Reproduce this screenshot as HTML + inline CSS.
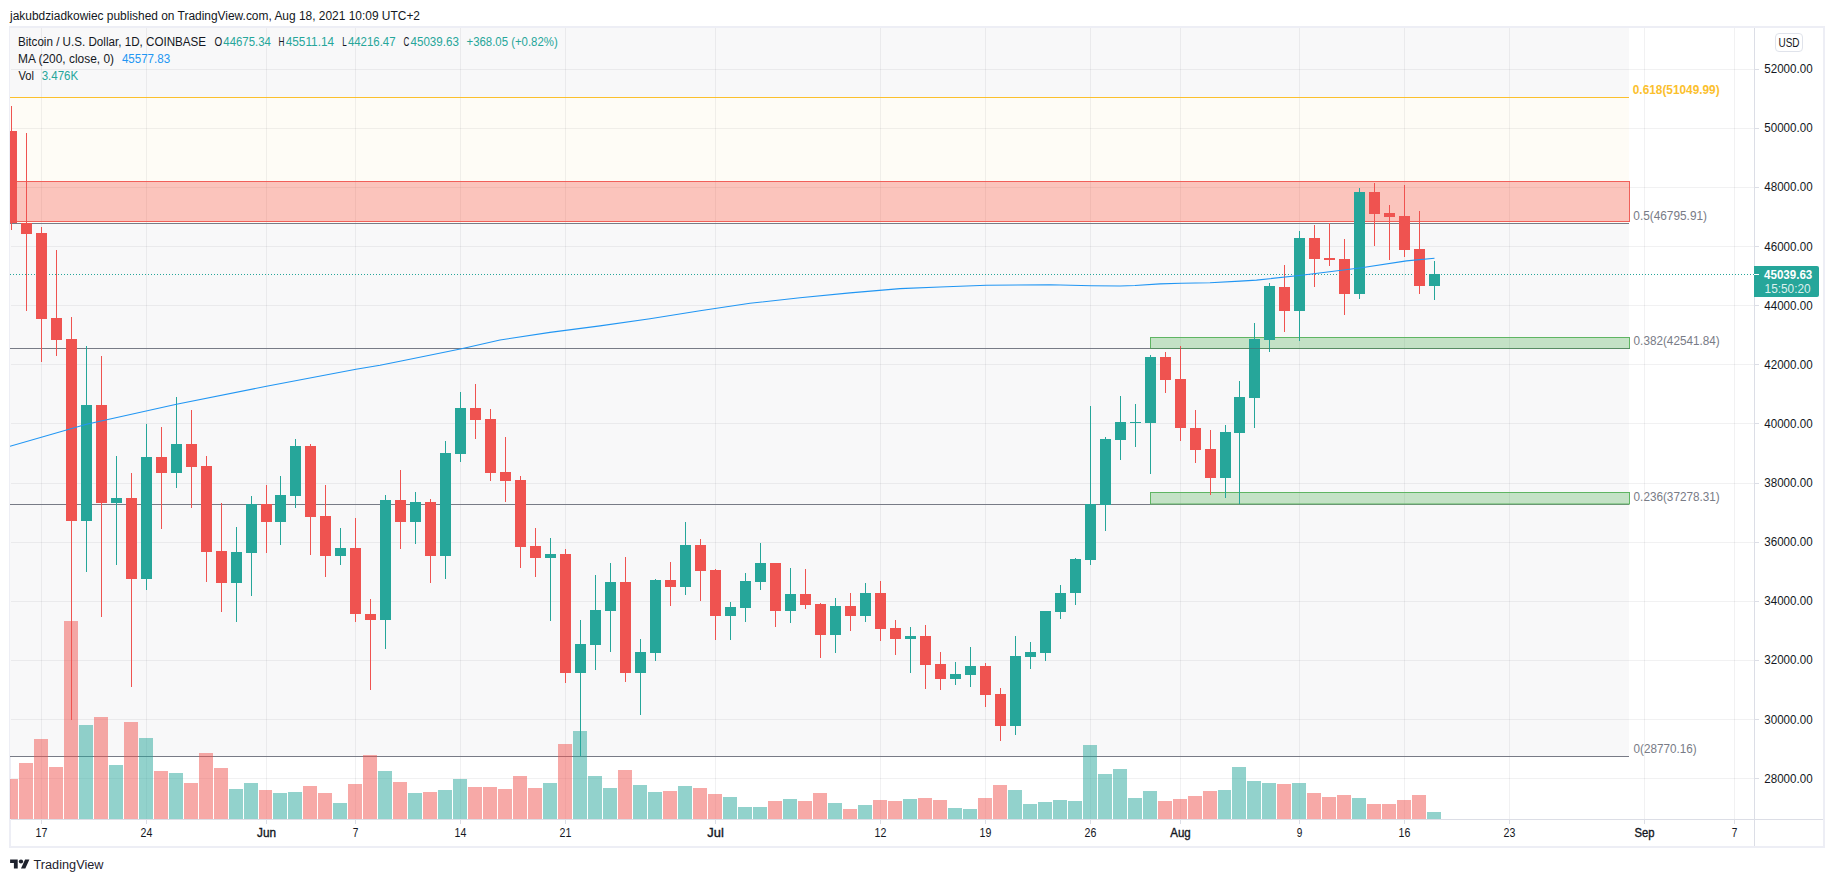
<!DOCTYPE html>
<html lang="en"><head><meta charset="utf-8"><title>BTCUSD chart</title>
<style>html,body{margin:0;padding:0;background:#fff}body{width:1834px;height:882px;overflow:hidden}svg{display:block}text{font-family:"Liberation Sans",sans-serif;font-size:12px}</style></head><body>
<svg width="1834" height="882" viewBox="0 0 1834 882">
<rect width="1834" height="882" fill="#fff"/>
<rect x="10" y="27" width="1814" height="820" fill="#fff" stroke="#edeef5" stroke-width="2"/>
<defs><clipPath id="pane"><rect x="10" y="28" width="1744" height="791"/></clipPath></defs>
<g clip-path="url(#pane)">
<rect x="10" y="28" width="1619" height="69.5" fill="#f8f8f9"/>
<rect x="10" y="97.5" width="1619" height="125.5" fill="#fefcf6"/>
<rect x="10" y="223" width="1619" height="533" fill="#f8f8f9"/>
</g>
<line x1="11" x2="1754" y1="69.5" y2="69.5" stroke="rgba(42,46,57,0.065)"/>
<line x1="11" x2="1754" y1="128.5" y2="128.5" stroke="rgba(42,46,57,0.065)"/>
<line x1="11" x2="1754" y1="187.5" y2="187.5" stroke="rgba(42,46,57,0.065)"/>
<line x1="11" x2="1754" y1="246.5" y2="246.5" stroke="rgba(42,46,57,0.065)"/>
<line x1="11" x2="1754" y1="305.5" y2="305.5" stroke="rgba(42,46,57,0.065)"/>
<line x1="11" x2="1754" y1="364.5" y2="364.5" stroke="rgba(42,46,57,0.065)"/>
<line x1="11" x2="1754" y1="423.5" y2="423.5" stroke="rgba(42,46,57,0.065)"/>
<line x1="11" x2="1754" y1="483.5" y2="483.5" stroke="rgba(42,46,57,0.065)"/>
<line x1="11" x2="1754" y1="542.5" y2="542.5" stroke="rgba(42,46,57,0.065)"/>
<line x1="11" x2="1754" y1="601.5" y2="601.5" stroke="rgba(42,46,57,0.065)"/>
<line x1="11" x2="1754" y1="660.5" y2="660.5" stroke="rgba(42,46,57,0.065)"/>
<line x1="11" x2="1754" y1="719.5" y2="719.5" stroke="rgba(42,46,57,0.065)"/>
<line x1="11" x2="1754" y1="778.5" y2="778.5" stroke="rgba(42,46,57,0.065)"/>
<line x1="41.5" x2="41.5" y1="28" y2="819" stroke="rgba(42,46,57,0.065)"/>
<line x1="146.5" x2="146.5" y1="28" y2="819" stroke="rgba(42,46,57,0.065)"/>
<line x1="266.5" x2="266.5" y1="28" y2="819" stroke="rgba(42,46,57,0.065)"/>
<line x1="355.5" x2="355.5" y1="28" y2="819" stroke="rgba(42,46,57,0.065)"/>
<line x1="460.5" x2="460.5" y1="28" y2="819" stroke="rgba(42,46,57,0.065)"/>
<line x1="565.5" x2="565.5" y1="28" y2="819" stroke="rgba(42,46,57,0.065)"/>
<line x1="715.5" x2="715.5" y1="28" y2="819" stroke="rgba(42,46,57,0.065)"/>
<line x1="880.5" x2="880.5" y1="28" y2="819" stroke="rgba(42,46,57,0.065)"/>
<line x1="985.5" x2="985.5" y1="28" y2="819" stroke="rgba(42,46,57,0.065)"/>
<line x1="1090.5" x2="1090.5" y1="28" y2="819" stroke="rgba(42,46,57,0.065)"/>
<line x1="1180.5" x2="1180.5" y1="28" y2="819" stroke="rgba(42,46,57,0.065)"/>
<line x1="1299.5" x2="1299.5" y1="28" y2="819" stroke="rgba(42,46,57,0.065)"/>
<line x1="1404.5" x2="1404.5" y1="28" y2="819" stroke="rgba(42,46,57,0.065)"/>
<line x1="1509.5" x2="1509.5" y1="28" y2="819" stroke="rgba(42,46,57,0.065)"/>
<line x1="1644.5" x2="1644.5" y1="28" y2="819" stroke="rgba(42,46,57,0.065)"/>
<line x1="1734.5" x2="1734.5" y1="28" y2="819" stroke="rgba(42,46,57,0.065)"/>
<g clip-path="url(#pane)">
<line x1="10" x2="1629" y1="97.5" y2="97.5" stroke="#fbc02d" stroke-width="1"/>
<line x1="10" x2="1629" y1="223.5" y2="223.5" stroke="#787b86" stroke-width="1"/>
<line x1="10" x2="1629" y1="348.5" y2="348.5" stroke="#787b86" stroke-width="1"/>
<line x1="10" x2="1629" y1="504.5" y2="504.5" stroke="#787b86" stroke-width="1"/>
<line x1="10" x2="1629" y1="756.5" y2="756.5" stroke="#787b86" stroke-width="1"/>
<rect x="4" y="779" width="14" height="40" fill="rgba(239,83,80,0.5)"/>
<rect x="19" y="763" width="14" height="56" fill="rgba(239,83,80,0.5)"/>
<rect x="34" y="739" width="14" height="80" fill="rgba(239,83,80,0.5)"/>
<rect x="49" y="767" width="14" height="52" fill="rgba(239,83,80,0.5)"/>
<rect x="64" y="621" width="14" height="198" fill="rgba(239,83,80,0.5)"/>
<rect x="79" y="725" width="14" height="94" fill="rgba(38,166,154,0.5)"/>
<rect x="94" y="717" width="14" height="102" fill="rgba(239,83,80,0.5)"/>
<rect x="109" y="765" width="14" height="54" fill="rgba(38,166,154,0.5)"/>
<rect x="124" y="722" width="14" height="97" fill="rgba(239,83,80,0.5)"/>
<rect x="139" y="738" width="14" height="81" fill="rgba(38,166,154,0.5)"/>
<rect x="154" y="771" width="14" height="48" fill="rgba(239,83,80,0.5)"/>
<rect x="169" y="773" width="14" height="46" fill="rgba(38,166,154,0.5)"/>
<rect x="184" y="783" width="14" height="36" fill="rgba(239,83,80,0.5)"/>
<rect x="199" y="753" width="14" height="66" fill="rgba(239,83,80,0.5)"/>
<rect x="214" y="768" width="14" height="51" fill="rgba(239,83,80,0.5)"/>
<rect x="229" y="789" width="14" height="30" fill="rgba(38,166,154,0.5)"/>
<rect x="244" y="783" width="14" height="36" fill="rgba(38,166,154,0.5)"/>
<rect x="259" y="790" width="13" height="29" fill="rgba(239,83,80,0.5)"/>
<rect x="273" y="793" width="14" height="26" fill="rgba(38,166,154,0.5)"/>
<rect x="288" y="792" width="14" height="27" fill="rgba(38,166,154,0.5)"/>
<rect x="303" y="786" width="14" height="33" fill="rgba(239,83,80,0.5)"/>
<rect x="318" y="793" width="14" height="26" fill="rgba(239,83,80,0.5)"/>
<rect x="333" y="803" width="14" height="16" fill="rgba(38,166,154,0.5)"/>
<rect x="348" y="784" width="14" height="35" fill="rgba(239,83,80,0.5)"/>
<rect x="363" y="755" width="14" height="64" fill="rgba(239,83,80,0.5)"/>
<rect x="378" y="771" width="14" height="48" fill="rgba(38,166,154,0.5)"/>
<rect x="393" y="782" width="14" height="37" fill="rgba(239,83,80,0.5)"/>
<rect x="408" y="793" width="14" height="26" fill="rgba(38,166,154,0.5)"/>
<rect x="423" y="792" width="14" height="27" fill="rgba(239,83,80,0.5)"/>
<rect x="438" y="790" width="14" height="29" fill="rgba(38,166,154,0.5)"/>
<rect x="453" y="779" width="14" height="40" fill="rgba(38,166,154,0.5)"/>
<rect x="468" y="787" width="14" height="32" fill="rgba(239,83,80,0.5)"/>
<rect x="483" y="787" width="14" height="32" fill="rgba(239,83,80,0.5)"/>
<rect x="498" y="789" width="14" height="30" fill="rgba(239,83,80,0.5)"/>
<rect x="513" y="776" width="14" height="43" fill="rgba(239,83,80,0.5)"/>
<rect x="528" y="788" width="14" height="31" fill="rgba(239,83,80,0.5)"/>
<rect x="543" y="783" width="14" height="36" fill="rgba(38,166,154,0.5)"/>
<rect x="558" y="744" width="14" height="75" fill="rgba(239,83,80,0.5)"/>
<rect x="573" y="731" width="14" height="88" fill="rgba(38,166,154,0.5)"/>
<rect x="588" y="776" width="14" height="43" fill="rgba(38,166,154,0.5)"/>
<rect x="603" y="788" width="14" height="31" fill="rgba(38,166,154,0.5)"/>
<rect x="618" y="770" width="14" height="49" fill="rgba(239,83,80,0.5)"/>
<rect x="633" y="785" width="14" height="34" fill="rgba(38,166,154,0.5)"/>
<rect x="648" y="792" width="14" height="27" fill="rgba(38,166,154,0.5)"/>
<rect x="663" y="791" width="14" height="28" fill="rgba(239,83,80,0.5)"/>
<rect x="678" y="786" width="14" height="33" fill="rgba(38,166,154,0.5)"/>
<rect x="693" y="788" width="14" height="31" fill="rgba(239,83,80,0.5)"/>
<rect x="708" y="794" width="14" height="25" fill="rgba(239,83,80,0.5)"/>
<rect x="723" y="797" width="14" height="22" fill="rgba(38,166,154,0.5)"/>
<rect x="738" y="807" width="14" height="12" fill="rgba(38,166,154,0.5)"/>
<rect x="753" y="807" width="14" height="12" fill="rgba(38,166,154,0.5)"/>
<rect x="768" y="801" width="14" height="18" fill="rgba(239,83,80,0.5)"/>
<rect x="783" y="799" width="14" height="20" fill="rgba(38,166,154,0.5)"/>
<rect x="798" y="801" width="14" height="18" fill="rgba(239,83,80,0.5)"/>
<rect x="813" y="793" width="14" height="26" fill="rgba(239,83,80,0.5)"/>
<rect x="828" y="803" width="14" height="16" fill="rgba(38,166,154,0.5)"/>
<rect x="843" y="809" width="14" height="10" fill="rgba(239,83,80,0.5)"/>
<rect x="858" y="805" width="14" height="14" fill="rgba(38,166,154,0.5)"/>
<rect x="873" y="800" width="14" height="19" fill="rgba(239,83,80,0.5)"/>
<rect x="888" y="801" width="14" height="18" fill="rgba(239,83,80,0.5)"/>
<rect x="903" y="799" width="14" height="20" fill="rgba(38,166,154,0.5)"/>
<rect x="918" y="798" width="14" height="21" fill="rgba(239,83,80,0.5)"/>
<rect x="933" y="800" width="14" height="19" fill="rgba(239,83,80,0.5)"/>
<rect x="948" y="808" width="14" height="11" fill="rgba(38,166,154,0.5)"/>
<rect x="963" y="809" width="14" height="10" fill="rgba(38,166,154,0.5)"/>
<rect x="978" y="798" width="14" height="21" fill="rgba(239,83,80,0.5)"/>
<rect x="993" y="785" width="14" height="34" fill="rgba(239,83,80,0.5)"/>
<rect x="1008" y="790" width="14" height="29" fill="rgba(38,166,154,0.5)"/>
<rect x="1023" y="804" width="14" height="15" fill="rgba(38,166,154,0.5)"/>
<rect x="1038" y="802" width="14" height="17" fill="rgba(38,166,154,0.5)"/>
<rect x="1053" y="800" width="14" height="19" fill="rgba(38,166,154,0.5)"/>
<rect x="1068" y="801" width="14" height="18" fill="rgba(38,166,154,0.5)"/>
<rect x="1083" y="745" width="14" height="74" fill="rgba(38,166,154,0.5)"/>
<rect x="1098" y="774" width="14" height="45" fill="rgba(38,166,154,0.5)"/>
<rect x="1113" y="769" width="14" height="50" fill="rgba(38,166,154,0.5)"/>
<rect x="1128" y="798" width="14" height="21" fill="rgba(38,166,154,0.5)"/>
<rect x="1143" y="791" width="14" height="28" fill="rgba(38,166,154,0.5)"/>
<rect x="1158" y="801" width="14" height="18" fill="rgba(239,83,80,0.5)"/>
<rect x="1173" y="799" width="14" height="20" fill="rgba(239,83,80,0.5)"/>
<rect x="1188" y="796" width="14" height="23" fill="rgba(239,83,80,0.5)"/>
<rect x="1203" y="791" width="14" height="28" fill="rgba(239,83,80,0.5)"/>
<rect x="1218" y="790" width="13" height="29" fill="rgba(38,166,154,0.5)"/>
<rect x="1232" y="767" width="14" height="52" fill="rgba(38,166,154,0.5)"/>
<rect x="1247" y="781" width="14" height="38" fill="rgba(38,166,154,0.5)"/>
<rect x="1262" y="783" width="14" height="36" fill="rgba(38,166,154,0.5)"/>
<rect x="1277" y="784" width="14" height="35" fill="rgba(239,83,80,0.5)"/>
<rect x="1292" y="783" width="14" height="36" fill="rgba(38,166,154,0.5)"/>
<rect x="1307" y="793" width="14" height="26" fill="rgba(239,83,80,0.5)"/>
<rect x="1322" y="797" width="14" height="22" fill="rgba(239,83,80,0.5)"/>
<rect x="1337" y="795" width="14" height="24" fill="rgba(239,83,80,0.5)"/>
<rect x="1352" y="798" width="14" height="21" fill="rgba(38,166,154,0.5)"/>
<rect x="1367" y="804" width="14" height="15" fill="rgba(239,83,80,0.5)"/>
<rect x="1382" y="804" width="14" height="15" fill="rgba(239,83,80,0.5)"/>
<rect x="1397" y="800" width="14" height="19" fill="rgba(239,83,80,0.5)"/>
<rect x="1412" y="795" width="14" height="24" fill="rgba(239,83,80,0.5)"/>
<rect x="1427" y="812" width="14" height="7" fill="rgba(38,166,154,0.5)"/>
<rect x="5.5" y="181.5" width="1624" height="40" fill="rgba(244,67,54,0.3)" stroke="#f0605a" stroke-width="1"/>
<rect x="1150.5" y="337.5" width="479" height="11" fill="rgba(76,175,80,0.3)" stroke="#5fb563" stroke-width="1"/>
<rect x="1150.5" y="492.5" width="479" height="11.5" fill="rgba(76,175,80,0.3)" stroke="#5fb563" stroke-width="1"/>
<line x1="10" x2="1754" y1="274.5" y2="274.5" stroke="#26a69a" stroke-width="1" stroke-dasharray="1 2"/>
<rect x="11" y="106" width="1" height="124" fill="#ef5350"/>
<rect x="6" y="131" width="11" height="92" fill="#ef5350"/>
<rect x="26" y="133" width="1" height="178" fill="#ef5350"/>
<rect x="21" y="223" width="11" height="11" fill="#ef5350"/>
<rect x="41" y="227" width="1" height="135" fill="#ef5350"/>
<rect x="36" y="233" width="11" height="86" fill="#ef5350"/>
<rect x="56" y="250" width="1" height="106" fill="#ef5350"/>
<rect x="51" y="318" width="11" height="22" fill="#ef5350"/>
<rect x="71" y="317" width="1" height="403" fill="#ef5350"/>
<rect x="66" y="339" width="11" height="182" fill="#ef5350"/>
<rect x="86" y="346" width="1" height="226" fill="#26a69a"/>
<rect x="81" y="405" width="11" height="116" fill="#26a69a"/>
<rect x="101" y="356" width="1" height="261" fill="#ef5350"/>
<rect x="96" y="405" width="11" height="98" fill="#ef5350"/>
<rect x="116" y="456" width="1" height="109" fill="#26a69a"/>
<rect x="111" y="498" width="11" height="5" fill="#26a69a"/>
<rect x="131" y="473" width="1" height="214" fill="#ef5350"/>
<rect x="126" y="498" width="11" height="81" fill="#ef5350"/>
<rect x="146" y="424" width="1" height="166" fill="#26a69a"/>
<rect x="141" y="457" width="11" height="122" fill="#26a69a"/>
<rect x="161" y="427" width="1" height="102" fill="#ef5350"/>
<rect x="156" y="457" width="11" height="16" fill="#ef5350"/>
<rect x="176" y="397" width="1" height="91" fill="#26a69a"/>
<rect x="171" y="444" width="11" height="29" fill="#26a69a"/>
<rect x="191" y="410" width="1" height="98" fill="#ef5350"/>
<rect x="186" y="444" width="11" height="23" fill="#ef5350"/>
<rect x="206" y="456" width="1" height="126" fill="#ef5350"/>
<rect x="201" y="466" width="11" height="86" fill="#ef5350"/>
<rect x="221" y="503" width="1" height="109" fill="#ef5350"/>
<rect x="216" y="551" width="11" height="32" fill="#ef5350"/>
<rect x="236" y="527" width="1" height="95" fill="#26a69a"/>
<rect x="231" y="552" width="11" height="31" fill="#26a69a"/>
<rect x="251" y="496" width="1" height="100" fill="#26a69a"/>
<rect x="246" y="504" width="11" height="49" fill="#26a69a"/>
<rect x="266" y="485" width="1" height="68" fill="#ef5350"/>
<rect x="261" y="504" width="11" height="18" fill="#ef5350"/>
<rect x="280" y="476" width="1" height="69" fill="#26a69a"/>
<rect x="275" y="495" width="11" height="27" fill="#26a69a"/>
<rect x="295" y="439" width="1" height="69" fill="#26a69a"/>
<rect x="290" y="446" width="11" height="50" fill="#26a69a"/>
<rect x="310" y="444" width="1" height="111" fill="#ef5350"/>
<rect x="305" y="446" width="11" height="71" fill="#ef5350"/>
<rect x="325" y="485" width="1" height="92" fill="#ef5350"/>
<rect x="320" y="516" width="11" height="40" fill="#ef5350"/>
<rect x="340" y="528" width="1" height="37" fill="#26a69a"/>
<rect x="335" y="548" width="11" height="8" fill="#26a69a"/>
<rect x="355" y="518" width="1" height="104" fill="#ef5350"/>
<rect x="350" y="548" width="11" height="66" fill="#ef5350"/>
<rect x="370" y="599" width="1" height="91" fill="#ef5350"/>
<rect x="365" y="614" width="11" height="6" fill="#ef5350"/>
<rect x="385" y="495" width="1" height="154" fill="#26a69a"/>
<rect x="380" y="500" width="11" height="120" fill="#26a69a"/>
<rect x="400" y="470" width="1" height="79" fill="#ef5350"/>
<rect x="395" y="500" width="11" height="22" fill="#ef5350"/>
<rect x="415" y="492" width="1" height="52" fill="#26a69a"/>
<rect x="410" y="502" width="11" height="20" fill="#26a69a"/>
<rect x="430" y="499" width="1" height="84" fill="#ef5350"/>
<rect x="425" y="502" width="11" height="54" fill="#ef5350"/>
<rect x="445" y="441" width="1" height="138" fill="#26a69a"/>
<rect x="440" y="453" width="11" height="103" fill="#26a69a"/>
<rect x="460" y="392" width="1" height="70" fill="#26a69a"/>
<rect x="455" y="408" width="11" height="46" fill="#26a69a"/>
<rect x="475" y="384" width="1" height="55" fill="#ef5350"/>
<rect x="470" y="408" width="11" height="12" fill="#ef5350"/>
<rect x="490" y="409" width="1" height="72" fill="#ef5350"/>
<rect x="485" y="419" width="11" height="54" fill="#ef5350"/>
<rect x="505" y="437" width="1" height="65" fill="#ef5350"/>
<rect x="500" y="472" width="11" height="9" fill="#ef5350"/>
<rect x="520" y="476" width="1" height="92" fill="#ef5350"/>
<rect x="515" y="480" width="11" height="67" fill="#ef5350"/>
<rect x="535" y="528" width="1" height="49" fill="#ef5350"/>
<rect x="530" y="546" width="11" height="12" fill="#ef5350"/>
<rect x="550" y="538" width="1" height="83" fill="#26a69a"/>
<rect x="545" y="554" width="11" height="4" fill="#26a69a"/>
<rect x="565" y="549" width="1" height="134" fill="#ef5350"/>
<rect x="560" y="554" width="11" height="119" fill="#ef5350"/>
<rect x="580" y="620" width="1" height="136" fill="#26a69a"/>
<rect x="575" y="644" width="11" height="29" fill="#26a69a"/>
<rect x="595" y="575" width="1" height="95" fill="#26a69a"/>
<rect x="590" y="610" width="11" height="35" fill="#26a69a"/>
<rect x="610" y="563" width="1" height="89" fill="#26a69a"/>
<rect x="605" y="582" width="11" height="29" fill="#26a69a"/>
<rect x="625" y="557" width="1" height="125" fill="#ef5350"/>
<rect x="620" y="582" width="11" height="91" fill="#ef5350"/>
<rect x="640" y="639" width="1" height="76" fill="#26a69a"/>
<rect x="635" y="652" width="11" height="21" fill="#26a69a"/>
<rect x="655" y="579" width="1" height="82" fill="#26a69a"/>
<rect x="650" y="580" width="11" height="73" fill="#26a69a"/>
<rect x="670" y="562" width="1" height="44" fill="#ef5350"/>
<rect x="665" y="580" width="11" height="7" fill="#ef5350"/>
<rect x="685" y="522" width="1" height="73" fill="#26a69a"/>
<rect x="680" y="545" width="11" height="42" fill="#26a69a"/>
<rect x="700" y="539" width="1" height="62" fill="#ef5350"/>
<rect x="695" y="545" width="11" height="26" fill="#ef5350"/>
<rect x="715" y="569" width="1" height="71" fill="#ef5350"/>
<rect x="710" y="570" width="11" height="46" fill="#ef5350"/>
<rect x="730" y="602" width="1" height="38" fill="#26a69a"/>
<rect x="725" y="607" width="11" height="9" fill="#26a69a"/>
<rect x="745" y="573" width="1" height="49" fill="#26a69a"/>
<rect x="740" y="581" width="11" height="27" fill="#26a69a"/>
<rect x="760" y="543" width="1" height="47" fill="#26a69a"/>
<rect x="755" y="563" width="11" height="19" fill="#26a69a"/>
<rect x="775" y="563" width="1" height="64" fill="#ef5350"/>
<rect x="770" y="563" width="11" height="48" fill="#ef5350"/>
<rect x="790" y="568" width="1" height="55" fill="#26a69a"/>
<rect x="785" y="594" width="11" height="17" fill="#26a69a"/>
<rect x="805" y="569" width="1" height="40" fill="#ef5350"/>
<rect x="800" y="594" width="11" height="11" fill="#ef5350"/>
<rect x="820" y="603" width="1" height="55" fill="#ef5350"/>
<rect x="815" y="604" width="11" height="31" fill="#ef5350"/>
<rect x="835" y="598" width="1" height="55" fill="#26a69a"/>
<rect x="830" y="606" width="11" height="29" fill="#26a69a"/>
<rect x="850" y="593" width="1" height="38" fill="#ef5350"/>
<rect x="845" y="606" width="11" height="10" fill="#ef5350"/>
<rect x="865" y="583" width="1" height="39" fill="#26a69a"/>
<rect x="860" y="593" width="11" height="23" fill="#26a69a"/>
<rect x="880" y="581" width="1" height="60" fill="#ef5350"/>
<rect x="875" y="593" width="11" height="36" fill="#ef5350"/>
<rect x="895" y="620" width="1" height="35" fill="#ef5350"/>
<rect x="890" y="628" width="11" height="11" fill="#ef5350"/>
<rect x="910" y="627" width="1" height="46" fill="#26a69a"/>
<rect x="905" y="636" width="11" height="3" fill="#26a69a"/>
<rect x="925" y="625" width="1" height="64" fill="#ef5350"/>
<rect x="920" y="636" width="11" height="29" fill="#ef5350"/>
<rect x="940" y="652" width="1" height="38" fill="#ef5350"/>
<rect x="935" y="664" width="11" height="15" fill="#ef5350"/>
<rect x="955" y="662" width="1" height="23" fill="#26a69a"/>
<rect x="950" y="674" width="11" height="5" fill="#26a69a"/>
<rect x="970" y="647" width="1" height="40" fill="#26a69a"/>
<rect x="965" y="666" width="11" height="9" fill="#26a69a"/>
<rect x="985" y="663" width="1" height="44" fill="#ef5350"/>
<rect x="980" y="666" width="11" height="29" fill="#ef5350"/>
<rect x="1000" y="688" width="1" height="53" fill="#ef5350"/>
<rect x="995" y="694" width="11" height="32" fill="#ef5350"/>
<rect x="1015" y="636" width="1" height="99" fill="#26a69a"/>
<rect x="1010" y="656" width="11" height="70" fill="#26a69a"/>
<rect x="1030" y="642" width="1" height="27" fill="#26a69a"/>
<rect x="1025" y="652" width="11" height="5" fill="#26a69a"/>
<rect x="1045" y="611" width="1" height="50" fill="#26a69a"/>
<rect x="1040" y="611" width="11" height="42" fill="#26a69a"/>
<rect x="1060" y="585" width="1" height="34" fill="#26a69a"/>
<rect x="1055" y="593" width="11" height="19" fill="#26a69a"/>
<rect x="1075" y="558" width="1" height="47" fill="#26a69a"/>
<rect x="1070" y="559" width="11" height="34" fill="#26a69a"/>
<rect x="1090" y="406" width="1" height="159" fill="#26a69a"/>
<rect x="1085" y="504" width="11" height="56" fill="#26a69a"/>
<rect x="1105" y="437" width="1" height="94" fill="#26a69a"/>
<rect x="1100" y="439" width="11" height="66" fill="#26a69a"/>
<rect x="1120" y="396" width="1" height="64" fill="#26a69a"/>
<rect x="1115" y="422" width="11" height="18" fill="#26a69a"/>
<rect x="1135" y="404" width="1" height="43" fill="#26a69a"/>
<rect x="1130" y="422" width="11" height="1" fill="#26a69a"/>
<rect x="1150" y="355" width="1" height="119" fill="#26a69a"/>
<rect x="1145" y="357" width="11" height="66" fill="#26a69a"/>
<rect x="1165" y="352" width="1" height="41" fill="#ef5350"/>
<rect x="1160" y="357" width="11" height="23" fill="#ef5350"/>
<rect x="1180" y="346" width="1" height="95" fill="#ef5350"/>
<rect x="1175" y="379" width="11" height="49" fill="#ef5350"/>
<rect x="1195" y="410" width="1" height="53" fill="#ef5350"/>
<rect x="1190" y="428" width="11" height="22" fill="#ef5350"/>
<rect x="1210" y="430" width="1" height="65" fill="#ef5350"/>
<rect x="1205" y="449" width="11" height="29" fill="#ef5350"/>
<rect x="1225" y="425" width="1" height="73" fill="#26a69a"/>
<rect x="1220" y="432" width="11" height="46" fill="#26a69a"/>
<rect x="1239" y="381" width="1" height="123" fill="#26a69a"/>
<rect x="1234" y="397" width="11" height="36" fill="#26a69a"/>
<rect x="1254" y="323" width="1" height="105" fill="#26a69a"/>
<rect x="1249" y="339" width="11" height="59" fill="#26a69a"/>
<rect x="1269" y="283" width="1" height="69" fill="#26a69a"/>
<rect x="1264" y="286" width="11" height="54" fill="#26a69a"/>
<rect x="1284" y="265" width="1" height="67" fill="#ef5350"/>
<rect x="1279" y="287" width="11" height="24" fill="#ef5350"/>
<rect x="1299" y="231" width="1" height="110" fill="#26a69a"/>
<rect x="1294" y="238" width="11" height="73" fill="#26a69a"/>
<rect x="1314" y="225" width="1" height="62" fill="#ef5350"/>
<rect x="1309" y="238" width="11" height="21" fill="#ef5350"/>
<rect x="1329" y="223" width="1" height="43" fill="#ef5350"/>
<rect x="1324" y="258" width="11" height="2" fill="#ef5350"/>
<rect x="1344" y="239" width="1" height="76" fill="#ef5350"/>
<rect x="1339" y="259" width="11" height="35" fill="#ef5350"/>
<rect x="1359" y="188" width="1" height="111" fill="#26a69a"/>
<rect x="1354" y="192" width="11" height="102" fill="#26a69a"/>
<rect x="1374" y="183" width="1" height="63" fill="#ef5350"/>
<rect x="1369" y="192" width="11" height="22" fill="#ef5350"/>
<rect x="1389" y="205" width="1" height="55" fill="#ef5350"/>
<rect x="1384" y="213" width="11" height="4" fill="#ef5350"/>
<rect x="1404" y="185" width="1" height="72" fill="#ef5350"/>
<rect x="1399" y="216" width="11" height="34" fill="#ef5350"/>
<rect x="1419" y="211" width="1" height="83" fill="#ef5350"/>
<rect x="1414" y="249" width="11" height="37" fill="#ef5350"/>
<rect x="1434" y="261" width="1" height="39" fill="#26a69a"/>
<rect x="1429" y="274" width="11" height="12" fill="#26a69a"/>
<line x1="1150" x2="1630" y1="348.5" y2="348.5" stroke="rgba(80,90,100,0.45)" stroke-width="1"/>
<polyline fill="none" stroke="#2196f3" stroke-width="1.1" stroke-linejoin="round" points="10.0,446.2 86.5,424.2 176.5,404.2 266.5,386.3 356.0,369.3 380.0,365.2 400.0,361.2 461.5,348.8 500.0,340.0 550.0,332.4 600.0,325.9 650.0,318.7 700.0,310.8 750.0,303.3 800.0,297.8 850.0,292.9 900.0,288.6 940.0,287.0 986.5,285.2 1050.0,284.8 1091.5,285.7 1120.0,286.0 1135.0,285.5 1160.0,283.9 1181.5,283.2 1210.0,282.7 1240.0,281.1 1256.5,280.1 1301.5,275.3 1361.5,267.7 1406.5,260.9 1434.5,258.3"/>
</g>
<line x1="1754.5" x2="1754.5" y1="28" y2="846" stroke="#dcdee6"/>
<line x1="11" x2="1823" y1="819.5" y2="819.5" stroke="#dcdee6"/>
<line x1="41.5" x2="41.5" y1="820" y2="824" stroke="#dcdee6"/>
<line x1="146.5" x2="146.5" y1="820" y2="824" stroke="#dcdee6"/>
<line x1="266.5" x2="266.5" y1="820" y2="824" stroke="#dcdee6"/>
<line x1="355.5" x2="355.5" y1="820" y2="824" stroke="#dcdee6"/>
<line x1="460.5" x2="460.5" y1="820" y2="824" stroke="#dcdee6"/>
<line x1="565.5" x2="565.5" y1="820" y2="824" stroke="#dcdee6"/>
<line x1="715.5" x2="715.5" y1="820" y2="824" stroke="#dcdee6"/>
<line x1="880.5" x2="880.5" y1="820" y2="824" stroke="#dcdee6"/>
<line x1="985.5" x2="985.5" y1="820" y2="824" stroke="#dcdee6"/>
<line x1="1090.5" x2="1090.5" y1="820" y2="824" stroke="#dcdee6"/>
<line x1="1180.5" x2="1180.5" y1="820" y2="824" stroke="#dcdee6"/>
<line x1="1299.5" x2="1299.5" y1="820" y2="824" stroke="#dcdee6"/>
<line x1="1404.5" x2="1404.5" y1="820" y2="824" stroke="#dcdee6"/>
<line x1="1509.5" x2="1509.5" y1="820" y2="824" stroke="#dcdee6"/>
<line x1="1644.5" x2="1644.5" y1="820" y2="824" stroke="#dcdee6"/>
<line x1="1734.5" x2="1734.5" y1="820" y2="824" stroke="#dcdee6"/>
<line x1="1755" x2="1759" y1="69.5" y2="69.5" stroke="#dcdee6"/>
<line x1="1755" x2="1759" y1="128.5" y2="128.5" stroke="#dcdee6"/>
<line x1="1755" x2="1759" y1="187.5" y2="187.5" stroke="#dcdee6"/>
<line x1="1755" x2="1759" y1="246.5" y2="246.5" stroke="#dcdee6"/>
<line x1="1755" x2="1759" y1="305.5" y2="305.5" stroke="#dcdee6"/>
<line x1="1755" x2="1759" y1="364.5" y2="364.5" stroke="#dcdee6"/>
<line x1="1755" x2="1759" y1="423.5" y2="423.5" stroke="#dcdee6"/>
<line x1="1755" x2="1759" y1="483.5" y2="483.5" stroke="#dcdee6"/>
<line x1="1755" x2="1759" y1="542.5" y2="542.5" stroke="#dcdee6"/>
<line x1="1755" x2="1759" y1="601.5" y2="601.5" stroke="#dcdee6"/>
<line x1="1755" x2="1759" y1="660.5" y2="660.5" stroke="#dcdee6"/>
<line x1="1755" x2="1759" y1="719.5" y2="719.5" stroke="#dcdee6"/>
<line x1="1755" x2="1759" y1="778.5" y2="778.5" stroke="#dcdee6"/>
<text x="35.6" y="837" fill="#131722" textLength="11.8" lengthAdjust="spacingAndGlyphs">17</text>
<text x="140.6" y="837" fill="#131722" textLength="11.8" lengthAdjust="spacingAndGlyphs">24</text>
<text x="257.0" y="837" fill="#131722" textLength="19" lengthAdjust="spacingAndGlyphs" stroke="#131722" stroke-width="0.35">Jun</text>
<text x="352.7" y="837" fill="#131722" textLength="5.6000000000000005" lengthAdjust="spacingAndGlyphs">7</text>
<text x="454.6" y="837" fill="#131722" textLength="11.8" lengthAdjust="spacingAndGlyphs">14</text>
<text x="559.6" y="837" fill="#131722" textLength="11.8" lengthAdjust="spacingAndGlyphs">21</text>
<text x="707.25" y="837" fill="#131722" textLength="16.5" lengthAdjust="spacingAndGlyphs" stroke="#131722" stroke-width="0.35">Jul</text>
<text x="874.6" y="837" fill="#131722" textLength="11.8" lengthAdjust="spacingAndGlyphs">12</text>
<text x="979.6" y="837" fill="#131722" textLength="11.8" lengthAdjust="spacingAndGlyphs">19</text>
<text x="1084.6" y="837" fill="#131722" textLength="11.8" lengthAdjust="spacingAndGlyphs">26</text>
<text x="1170.25" y="837" fill="#131722" textLength="20.5" lengthAdjust="spacingAndGlyphs" stroke="#131722" stroke-width="0.35">Aug</text>
<text x="1296.7" y="837" fill="#131722" textLength="5.6000000000000005" lengthAdjust="spacingAndGlyphs">9</text>
<text x="1398.6" y="837" fill="#131722" textLength="11.8" lengthAdjust="spacingAndGlyphs">16</text>
<text x="1503.6" y="837" fill="#131722" textLength="11.8" lengthAdjust="spacingAndGlyphs">23</text>
<text x="1634.5" y="837" fill="#131722" textLength="20" lengthAdjust="spacingAndGlyphs" stroke="#131722" stroke-width="0.35">Sep</text>
<text x="1731.7" y="837" fill="#131722" textLength="5.6000000000000005" lengthAdjust="spacingAndGlyphs">7</text>
<text x="1764.3" y="73" fill="#131722" textLength="48.3" lengthAdjust="spacingAndGlyphs">52000.00</text>
<text x="1764.3" y="132" fill="#131722" textLength="48.3" lengthAdjust="spacingAndGlyphs">50000.00</text>
<text x="1764.3" y="191" fill="#131722" textLength="48.3" lengthAdjust="spacingAndGlyphs">48000.00</text>
<text x="1764.3" y="251" fill="#131722" textLength="48.3" lengthAdjust="spacingAndGlyphs">46000.00</text>
<text x="1764.3" y="310" fill="#131722" textLength="48.3" lengthAdjust="spacingAndGlyphs">44000.00</text>
<text x="1764.3" y="369" fill="#131722" textLength="48.3" lengthAdjust="spacingAndGlyphs">42000.00</text>
<text x="1764.3" y="428" fill="#131722" textLength="48.3" lengthAdjust="spacingAndGlyphs">40000.00</text>
<text x="1764.3" y="487" fill="#131722" textLength="48.3" lengthAdjust="spacingAndGlyphs">38000.00</text>
<text x="1764.3" y="546" fill="#131722" textLength="48.3" lengthAdjust="spacingAndGlyphs">36000.00</text>
<text x="1764.3" y="605" fill="#131722" textLength="48.3" lengthAdjust="spacingAndGlyphs">34000.00</text>
<text x="1764.3" y="664" fill="#131722" textLength="48.3" lengthAdjust="spacingAndGlyphs">32000.00</text>
<text x="1764.3" y="724" fill="#131722" textLength="48.3" lengthAdjust="spacingAndGlyphs">30000.00</text>
<text x="1764.3" y="783" fill="#131722" textLength="48.3" lengthAdjust="spacingAndGlyphs">28000.00</text>
<rect x="1775.5" y="33.5" width="27" height="18" rx="3.5" fill="#fff" stroke="#e0e3eb"/>
<text x="1789" y="47" fill="#131722" textLength="21" lengthAdjust="spacingAndGlyphs" text-anchor="middle">USD</text>
<path d="M1754 266h63a2 2 0 0 1 2 2v27a2 2 0 0 1 -2 2h-63z" fill="#26a69a"/>
<line x1="1754" x2="1759" y1="274.5" y2="274.5" stroke="#fff"/>
<text x="1764" y="278.8" fill="#fff" textLength="48.3" lengthAdjust="spacingAndGlyphs" font-weight="bold">45039.63</text>
<text x="1764.6" y="292.6" fill="rgba(255,255,255,0.85)" textLength="46" lengthAdjust="spacingAndGlyphs">15:50:20</text>
<text x="1632.8" y="94" fill="#fbc02d" textLength="86.8" lengthAdjust="spacingAndGlyphs" font-weight="bold">0.618(51049.99)</text>
<text x="1633.3" y="220.2" fill="#787b86" textLength="73.7" lengthAdjust="spacingAndGlyphs">0.5(46795.91)</text>
<text x="1633.6" y="345.4" fill="#787b86" textLength="86.1" lengthAdjust="spacingAndGlyphs">0.382(42541.84)</text>
<text x="1633.6" y="501.3" fill="#787b86" textLength="86.1" lengthAdjust="spacingAndGlyphs">0.236(37278.31)</text>
<text x="1633.6" y="753.3" fill="#787b86" textLength="63" lengthAdjust="spacingAndGlyphs">0(28770.16)</text>
<text x="10" y="19.8" fill="#131722" textLength="410" lengthAdjust="spacingAndGlyphs" font-size="13">jakubdziadkowiec published on TradingView.com, Aug 18, 2021 10:09 UTC+2</text>
<text x="18" y="46" fill="#131722" textLength="188.1" lengthAdjust="spacingAndGlyphs">Bitcoin / U.S. Dollar, 1D, COINBASE</text>
<text x="214.4" y="46" fill="#131722" textLength="7.7000000000000055" lengthAdjust="spacingAndGlyphs">O</text>
<text x="223.3" y="46" fill="#26a69a" textLength="47.599999999999966" lengthAdjust="spacingAndGlyphs">44675.34</text>
<text x="278.5" y="46" fill="#131722" textLength="5.9999999999999885" lengthAdjust="spacingAndGlyphs">H</text>
<text x="285.7" y="46" fill="#26a69a" textLength="48.400000000000034" lengthAdjust="spacingAndGlyphs">45511.14</text>
<text x="342.2" y="46" fill="#131722" textLength="4.4999999999999885" lengthAdjust="spacingAndGlyphs">L</text>
<text x="347.9" y="46" fill="#26a69a" textLength="47.700000000000045" lengthAdjust="spacingAndGlyphs">44216.47</text>
<text x="403.5" y="46" fill="#131722" textLength="5.8" lengthAdjust="spacingAndGlyphs">C</text>
<text x="410.5" y="46" fill="#26a69a" textLength="48.39999999999998" lengthAdjust="spacingAndGlyphs">45039.63</text>
<text x="466.5" y="46" fill="#26a69a" textLength="91.2" lengthAdjust="spacingAndGlyphs">+368.05 (+0.82%)</text>
<text x="18" y="63.2" fill="#131722" textLength="96" lengthAdjust="spacingAndGlyphs">MA (200, close, 0)</text>
<text x="121.9" y="63.2" fill="#2196f3" textLength="48.2" lengthAdjust="spacingAndGlyphs">45577.83</text>
<text x="18.5" y="80.4" fill="#131722" textLength="15.5" lengthAdjust="spacingAndGlyphs">Vol</text>
<text x="41.7" y="80.4" fill="#26a69a" textLength="36.5" lengthAdjust="spacingAndGlyphs">3.476K</text>
<g transform="translate(10.1,857.4) scale(0.544,0.51)" fill="#1e222d"><path d="M14 22H7V11H0V4h14v18zM28 22h-8l7.5-18h8L28 22z"/><circle cx="20" cy="8" r="4"/></g>
<text x="33.5" y="868.9" fill="#1e222d" textLength="70" lengthAdjust="spacingAndGlyphs" font-size="13">TradingView</text>
</svg></body></html>
